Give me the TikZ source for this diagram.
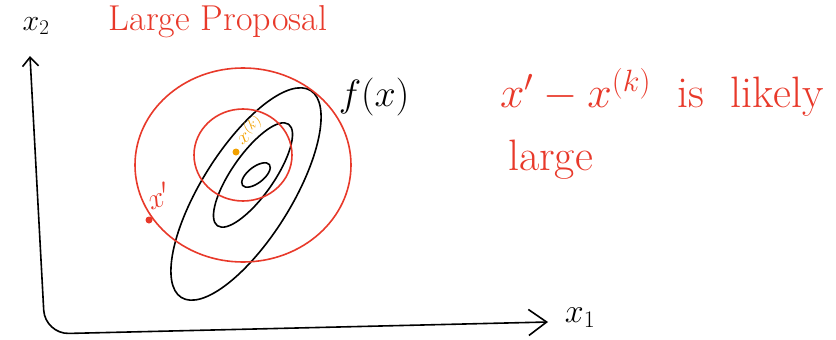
\RequirePackage{fix-cm}
\documentclass[tikz,border=0pt]{standalone}
\usepackage{amsmath}
\usepackage{fontspec}
\usepackage{tikz}
\usetikzlibrary{arrows.meta,positioning,calc}
\usepackage{xcolor}
\definecolor{inkred}{HTML}{E8392A}
\definecolor{inkorange}{HTML}{F2A100}

\begin{document}
\begin{tikzpicture}[x=1pt,y=-1pt,
  ink/.style={line width=1.6pt, line cap=round, line join=round},
  redink/.style={ink, draw=inkred},
  lbl/.style={inner sep=0pt},
  redlbl/.style={lbl, text=inkred},
  big/.style={font=\fontsize{44}{48}\selectfont},
  ax/.style={ink, rounded corners=24pt,
    {Straight Barb[length=9pt,width=16pt]}-{Straight Barb[length=18pt,width=26pt]}}]
\useasboundingbox (0,0) rectangle (836,340);
% axes
\coordinate (orig) at (45,334);
\coordinate (ytip) at (30,56);
\coordinate (xtip) at (548,322);
\node[lbl, font=\fontsize{30}{34}\selectfont] (xtwo) at (36,26) {$x_2$};
\node[lbl, font=\fontsize{34}{38}\selectfont] (xone) at (580,318) {$x_1$};
\draw[ax] (ytip) -- (orig) -- (xtip);
% contours of f
\draw[ink,rotate around={38:(256,175)}] (256,175) ellipse [x radius=17, y radius=8];
\draw[ink,rotate around={55:(253,175)}] (253,175) ellipse [x radius=62, y radius=21];
\draw[ink,rotate around={58:(246,194)}] (246,194) ellipse [x radius=122, y radius=45];
\node[lbl, font=\fontsize{38}{42}\selectfont] (fx) at (374,97) {$f(x)$};
% proposals
\draw[redink] (243,165) ellipse [x radius=108, y radius=97];
\draw[redink] (243,155) ellipse [x radius=49, y radius=46];
\node[redlbl, font=\fontsize{36}{40}\selectfont] (title) at (218,22) {Large Proposal};
% points
\fill[inkorange] (236,152) circle (3.5pt);
\node[lbl, text=inkorange, font=\fontsize{20}{22}\selectfont, rotate=35, anchor=south west] (xk) at (242,146) {$x^{(k)}$};
\fill[inkred] (149,220) circle (3.5pt);
\node[redlbl, font=\fontsize{30}{32}\selectfont, rotate=20] (xp) at (158,196) {$x'$};
% remark
\node[redlbl, big, anchor=west] (rem) at (500,92) {$x'-x^{(k)}$ \ is \ likely};
\node[redlbl, big, anchor=west] (remb) at (508,160) {large};
\end{tikzpicture}
\end{document}
